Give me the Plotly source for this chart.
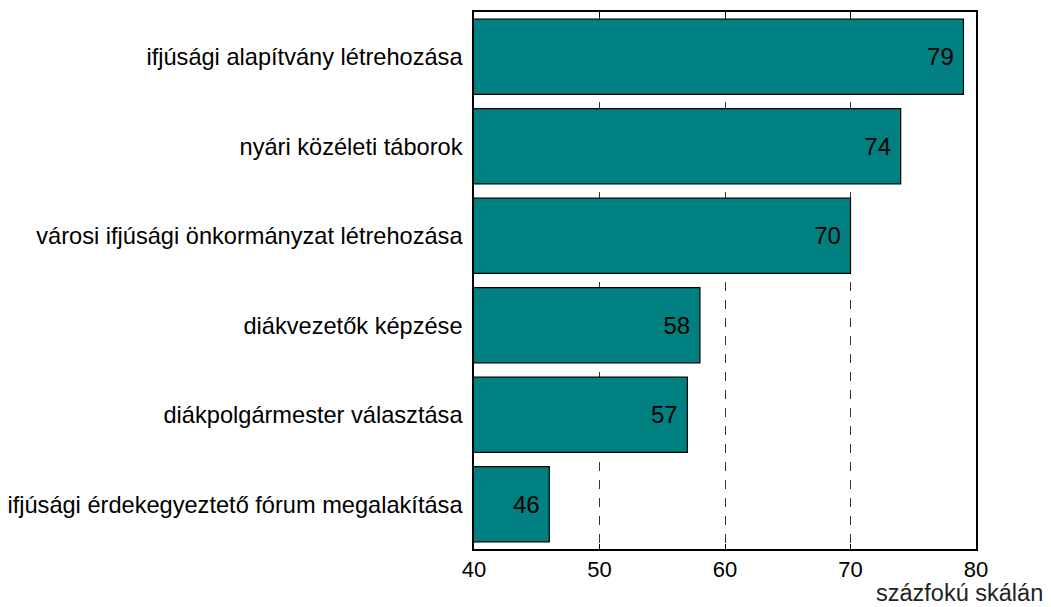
import plotly.graph_objects as go

categories = [
    "ifjúsági alapítvány létrehozása",
    "nyári közéleti táborok",
    "városi ifjúsági önkormányzat létrehozása",
    "diákvezetők képzése",
    "diákpolgármester választása",
    "ifjúsági érdekegyeztető fórum megalakítása",
]
values = [79, 74, 70, 58, 57, 46]
x_ticks = [40, 50, 60, 70, 80]
axis_title = "százfokú skálán"

FONT = "Liberation Sans, Arial, sans-serif"

fig = go.Figure(
    go.Bar(
        y=categories,
        x=values,
        base=0,
        orientation="h",
        marker=dict(color="#008080", line=dict(color="#000000", width=1.2)),
        width=0.84,
        text=[str(v) + "\u00a0" for v in values],
        textposition="inside",
        insidetextanchor="end",
        textfont=dict(family=FONT, size=24, color="#000000"),
        hoverinfo="x+y",
    )
)

fig.update_layout(
    width=1051,
    height=607,
    paper_bgcolor="white",
    plot_bgcolor="white",
    margin=dict(l=474, r=75, t=12, b=58),
    showlegend=False,
    font=dict(family=FONT, size=23, color="#000000"),
    annotations=[
        dict(
            text=axis_title,
            xref="paper",
            yref="paper",
            x=1.1375,
            y=0,
            xanchor="right",
            yanchor="middle",
            yshift=-44,
            showarrow=False,
            font=dict(family=FONT, size=23.5, color="#222222"),
        )
    ],
)

fig.update_xaxes(
    range=[40, 80],
    tickvals=x_ticks,
    ticktext=[str(t) for t in x_ticks],
    showgrid=True,
    gridcolor="#333333",
    griddash="dash",
    gridwidth=1,
    showline=True,
    linecolor="#000000",
    linewidth=1.5,
    mirror="ticks",
    ticks="inside",
    ticklen=5,
    tickcolor="#000000",
    tickfont=dict(family=FONT, size=22, color="#000000"),
    zeroline=False,
    automargin=False,
)
fig.update_yaxes(
    categoryorder="array",
    categoryarray=categories[::-1],
    showgrid=False,
    showline=True,
    linecolor="#000000",
    linewidth=1.5,
    mirror=True,
    ticks="",
    ticklabelstandoff=5,
    tickfont=dict(family=FONT, size=23.6, color="#000000"),
    zeroline=False,
    automargin=False,
)

fig.write_html(
    "out.html",
    config={"displayModeBar": False},
    post_script="document.body.style.margin='0';",
)
